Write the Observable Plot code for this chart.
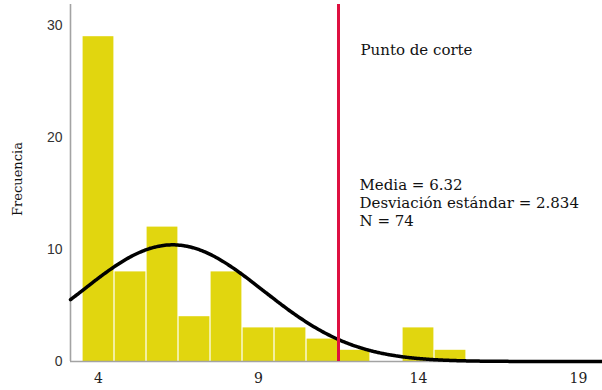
<!DOCTYPE html>
<html>
<head>
<meta charset="utf-8">
<script src="https://cdn.jsdelivr.net/npm/d3@7"></script>
<script src="https://cdn.jsdelivr.net/npm/@observablehq/plot@0.6"></script>
<style>
  html, body { margin: 0; padding: 0; background: #fff; }
  #chart svg { display: block; }
</style>
</head>
<body>
<div id="chart"></div>
<script>
// Histogram of scores (bin width 1) with fitted normal curve and a cut-off line
const binCenters = [4, 5, 6, 7, 8, 9, 10, 11, 12, 13, 14, 15];
const counts     = [29, 8, 12, 4, 8, 3, 3, 2, 1, 0, 3, 1];

const xTicks = [4, 9, 14, 19];
const yTicks = [0, 10, 20, 30];

const media = 6.32;
const desviacion = 2.834;
const n = 74;
const puntoCorte = 11.5;

const xDomain = [3.125, 19.75];
const yDomain = [0, 31.875];

const bars = binCenters.map((c, i) => ({x1: c - 0.5, x2: c + 0.5, count: counts[i]}));

// Normal density scaled to frequencies (N × bin width)
const binWidth = 1;
const curve = d3.range(xDomain[0], xDomain[1] + 0.001, 0.05).map(x => ({
  x,
  y: n * binWidth / (desviacion * Math.sqrt(2 * Math.PI)) *
     Math.exp(-0.5 * ((x - media) / desviacion) ** 2)
}));

const statsText = `Media = ${media.toFixed(2)}\nDesviación estándar = ${desviacion.toFixed(3)}\nN = ${n}`;

const chart = Plot.plot({
  width: 602,
  height: 390,
  marginLeft: 70,
  marginRight: 0,
  marginTop: 4,
  marginBottom: 29,
  style: {fontFamily: "DejaVu Serif", fontSize: "14px", background: "#fff"},
  x: {domain: xDomain},
  y: {domain: yDomain},
  marks: [
    Plot.rectY(bars, {x1: "x1", x2: "x2", y: "count", fill: "#e1d60f", insetLeft: 0.6, insetRight: 0.6}),
    Plot.ruleX([xDomain[0]], {stroke: "#a3a3a3", strokeWidth: 1.6}),
    Plot.ruleY([0], {stroke: "#a3a3a3", strokeWidth: 1.6}),
    Plot.line(curve, {x: "x", y: "y", stroke: "#000", strokeWidth: 3.5, curve: "basis"}),
    Plot.ruleX([puntoCorte], {stroke: "#de1040", strokeWidth: 3}),
    Plot.axisY({ticks: yTicks, tickSize: 0, tickPadding: 8, label: null,
      fontFamily: "Liberation Sans", fontSize: 14, fill: "#333"}),
    Plot.axisX({ticks: xTicks, tickSize: 0, tickPadding: 12, label: null,
      fontFamily: "DejaVu Serif", fontSize: 14, fill: "#222"}),
    Plot.text(["Frecuencia"], {frameAnchor: "left", dx: -53, dy: -4, rotate: -90,
      textAnchor: "middle", lineAnchor: "middle",
      fontFamily: "DejaVu Serif", fontSize: 13, fill: "#111"}),
    Plot.text(["Punto de corte"], {x: puntoCorte, frameAnchor: "top", dx: 22, dy: 46,
      textAnchor: "start", lineAnchor: "middle", fontSize: 15, fill: "#111"}),
    Plot.text([statsText], {x: puntoCorte, frameAnchor: "top", dx: 21, dy: 198,
      textAnchor: "start", lineAnchor: "middle", lineHeight: 1.2, fontSize: 15, fill: "#111"})
  ]
});

document.getElementById("chart").append(chart);
</script>
</body>
</html>
